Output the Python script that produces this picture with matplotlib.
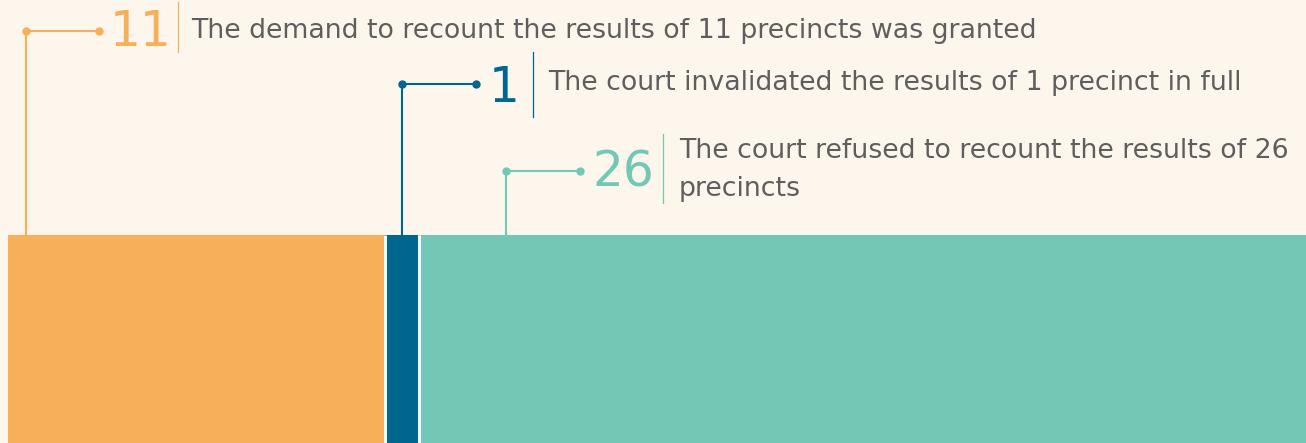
import matplotlib.pyplot as plt

categories = ["granted", "invalidated", "refused"]
values = [11, 1, 26]
numbers = ["11", "1", "26"]
labels = [
    "The demand to recount the results of 11 precincts was granted",
    "The court invalidated the results of 1 precinct in full",
    "The court refused to recount the results of 26\nprecincts",
]
colors = ["#F7AF5A", "#00658F", "#72C8B5"]

BG = "#FDF6EC"
TEXT = "#5E5E5E"
W, H = 1306, 443
LEFT = 8
BAR_TOP = 235

# callout layout in pixels: leader x, corner y, leader end x, number x / baseline,
# separator x and span, text x / baseline of its last line
layout = [
    dict(lx=26, ly=31, ex=99, nx=110, nb=46, sx=178, s0=2, s1=52, tx=191, tb=38),
    dict(lx=402, ly=84, ex=476, nx=489, nb=102, sx=533, s0=52, s1=117, tx=548, tb=90),
    dict(lx=506, ly=171, ex=580, nx=593, nb=186, sx=663, s0=134, s1=203, tx=679, tb=196),
]

fig = plt.figure(figsize=(W / 100, H / 100), dpi=100, facecolor=BG)
ax = fig.add_axes([LEFT / W, 0, 1 - LEFT / W, 1])
ax.set_facecolor(BG)
total = sum(values)
ax.set_xlim(0, total)
ax.set_ylim(0, H)
ax.axis("off")

scale = (W - LEFT) / total


def px(x):
    return (x - LEFT) / scale


def py(y):
    return H - y


# stacked bar
left = 0
for v, c in zip(values, colors):
    ax.barh(0, v, left=left, height=H - BAR_TOP, align="edge", color=c, linewidth=0)
    left += v
# white gaps between segments
edge = 0
for v in values[:-1]:
    edge += v
    ax.plot([edge + 0.03, edge + 0.03], [0, H - BAR_TOP], color="white", linewidth=2.2,
            solid_capstyle="butt")

# callouts
for num, lab, c, L in zip(numbers, labels, colors, layout):
    ax.plot([px(L["lx"]), px(L["lx"]), px(L["ex"])], [py(BAR_TOP), py(L["ly"]), py(L["ly"])],
            color=c, linewidth=1.5)
    ax.plot([px(L["lx"]), px(L["ex"])], [py(L["ly"]), py(L["ly"])], "o", color=c, markersize=5)
    ax.text(px(L["nx"]), py(L["nb"]), num, color=c, fontsize=35, va="baseline", ha="left")
    ax.plot([px(L["sx"]), px(L["sx"])], [py(L["s0"]), py(L["s1"])], color=c, linewidth=0.9)
    ax.text(px(L["tx"]), py(L["tb"]), lab, color=TEXT, fontsize=19.3, va="baseline", ha="left",
            linespacing=1.6)

plt.savefig("out.png", dpi=100, facecolor=BG)
